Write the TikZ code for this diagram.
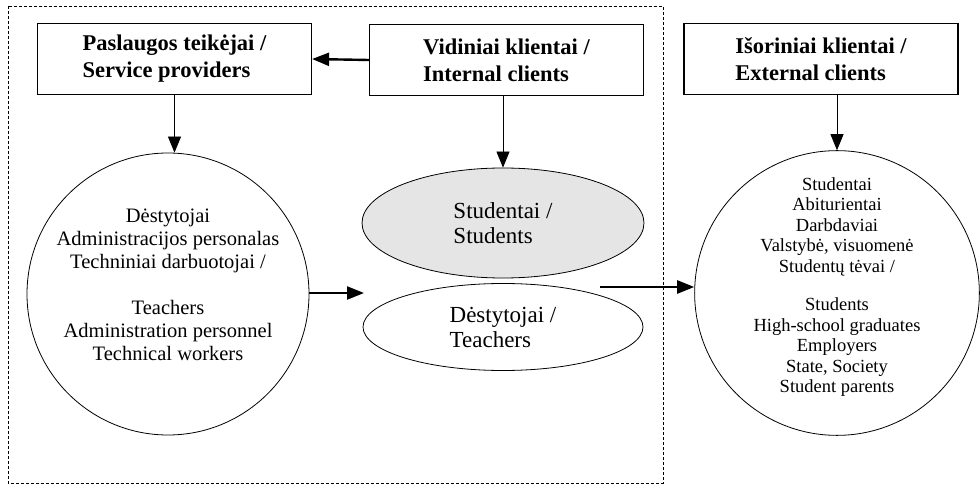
\documentclass[tikz,border=0pt]{standalone}
\usepackage{fontspec}
\setmainfont{Liberation Serif}
\usetikzlibrary{positioning,shapes.geometric,arrows.meta}

\begin{document}
\begin{tikzpicture}[
      x=1pt, y=-1pt,
      group/.style={
        draw,
        line width=1.2pt,
        minimum width=274pt,
        minimum height=71pt,
        align=left,
        font=\fontsize{22.5}{27}\selectfont\bfseries
      },
      member/.style={
        draw,
        circle,
        line width=0.8pt,
        inner sep=0pt,
        align=center
      },
      client/.style={
        draw,
        ellipse,
        line width=0.8pt,
        inner sep=0pt,
        align=left,
        font=\fontsize{23}{25}\selectfont
      },
      link/.style={
        line width=0.8pt,
        -{Triangle[length=16pt,width=13pt]}
      },
      flow/.style={
        line width=2.4pt,
        -{Triangle[length=17pt,width=13pt]}
      }
    ]
    \useasboundingbox (0,0) rectangle (980,486);
    %% Frame of the organisation
    \draw[line width=0.7pt, dash pattern=on 3pt off 2pt] (8,6) rectangle (663,483);
    %% Groups
    \node[group] (n-prov) at (174.5,59) {Paslaugos teikėjai /\\Service providers};
    \node[group] (n-int) at (506.5,60) {Vidiniai klientai /\\Internal clients};
    \node[group] (n-ext) at (821,59) {Išoriniai klientai /\\External clients};
    %% Members
    \node[member, minimum size=282pt, font=\fontsize{20.5}{23}\selectfont] (n-staff) at (168,294) {%
      Dėstytojai\\
      Administracijos personalas\\
      Techniniai darbuotojai /\\[23pt]
      Teachers\\
      Administration personnel\\
      Technical workers\\[-4pt]
      {}};
    \node[client, fill=black!10, minimum width=282pt, minimum height=110pt] (n-stud) at (503,223) {Studentai /\\Students};
    \node[client, minimum width=280pt, minimum height=87pt] (n-teach) at (503,327) {Dėstytojai /\\Teachers};
    \node[member, minimum size=278pt, font=\fontsize{18.5}{20.5}\selectfont] (n-cl) at (837,293) {%
      Studentai\\
      Abiturientai\\
      Darbdaviai\\
      Valstybė, visuomenė\\
      Studentų tėvai /\\[18pt]
      Students\\
      High-school graduates\\
      Employers\\
      State, Society\\
      Student parents\\[-4.5pt]
      {}};
    %% Free ends
    \coordinate (in-mid) at (364,293);
    \coordinate (out-mid) at (600,287);
    %% Arrows
    \draw[flow] (n-int.west) -- (n-prov.east);
    \draw[link] (n-prov.south) -- (n-prov.south |- n-staff.north);
    \draw[link] (n-int.south -| n-stud.north) -- (n-stud.north);
    \draw[link] (n-ext.south -| n-cl.north) -- (n-cl.north);
    \draw[flow] (n-staff.east |- in-mid) -- (in-mid);
    \draw[flow] (out-mid) -- (out-mid -| n-cl.west);
  \end{tikzpicture}
\end{document}
